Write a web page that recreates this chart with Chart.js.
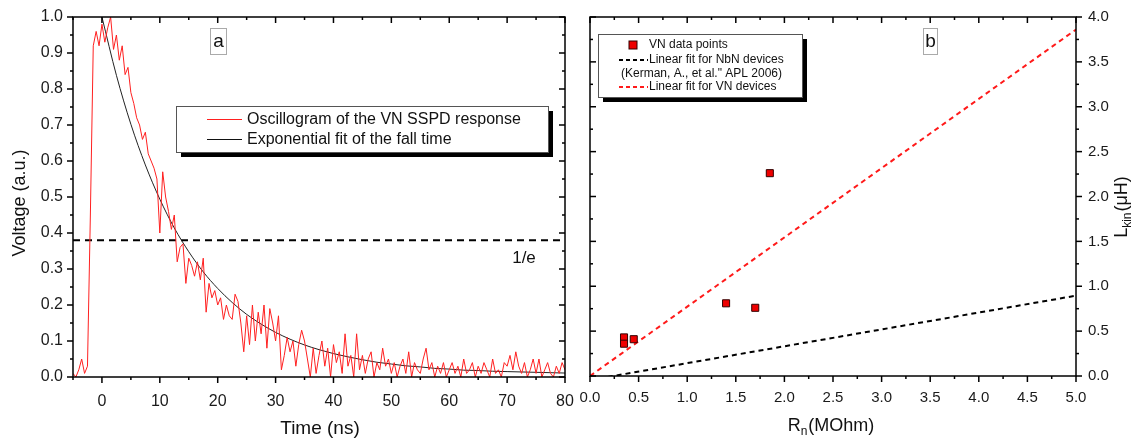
<!DOCTYPE html>
<html>
<head>
<meta charset="utf-8">
<script src="https://cdn.jsdelivr.net/npm/chart.js@4.4.0/dist/chart.umd.min.js"></script>
<style>
  body { margin: 0; background: #fff; width: 1142px; height: 439px; overflow: hidden; position: relative; }
  #chartA { position: absolute; left: 0; top: 0; }
  #chartB { position: absolute; left: 578px; top: 0; }
</style>
</head>
<body>
<canvas id="chartA" width="578" height="439"></canvas>
<canvas id="chartB" width="564" height="439"></canvas>
<script>
// panel a: oscillogram, sampled every 0.5 ns from -5 ns
const timeStart = -5;
const timeStep = 0.5;
const oscVoltage = [
  0.01, 0.00, 0.02, 0.05, 0.01, 0.03, 0.45, 0.92, 0.96, 0.92,
  0.98, 0.93, 0.97, 1.00, 0.91, 0.95, 0.88, 0.92, 0.84, 0.86,
  0.79, 0.76, 0.72, 0.70, 0.66, 0.68, 0.62, 0.60, 0.58, 0.55,
  0.40, 0.57, 0.50, 0.46, 0.41, 0.45, 0.32, 0.36, 0.37, 0.26,
  0.33, 0.31, 0.28, 0.32, 0.27, 0.33, 0.18, 0.26, 0.22, 0.24,
  0.20, 0.22, 0.16, 0.20, 0.17, 0.16, 0.23, 0.21, 0.15, 0.07,
  0.17, 0.09, 0.20, 0.10, 0.18, 0.12, 0.20, 0.08, 0.19, 0.15,
  0.10, 0.17, 0.02, 0.06, 0.11, 0.07, 0.10, 0.03, 0.09, 0.13,
  0.10, 0.05, 0.00, 0.08, 0.01, 0.06, 0.10, 0.03, 0.08, 0.00,
  0.09, 0.04, 0.07, 0.01, 0.12, 0.03, 0.06, 0.00, 0.12, 0.02,
  0.06, 0.01, 0.05, 0.07, 0.00, 0.04, 0.02, 0.08, 0.03, 0.05,
  0.01, 0.04, 0.00, 0.03, 0.05, 0.01, 0.07, 0.00, 0.04, 0.02,
  0.01, 0.05, 0.08, 0.02, 0.04, 0.00, 0.03, 0.01, 0.04, 0.00,
  0.02, 0.04, 0.01, 0.03, 0.00, 0.05, 0.01, 0.02, 0.04, 0.00,
  0.03, 0.01, 0.04, 0.02, 0.00, 0.05, 0.01, 0.02, 0.00, 0.04,
  0.03, 0.06, 0.02, 0.07, 0.03, 0.01, 0.04, 0.00, 0.02, 0.05,
  0.01, 0.05, 0.00, 0.02, 0.04, 0.01, 0.00, 0.03, 0.01, 0.04,
  0.02
];
const fitTime = [0, 2.5, 5, 7.5, 10, 12.5, 15, 17.5, 20, 22.5, 25, 27.5, 30, 32.5, 35, 37.5, 40,
  42.5, 45, 47.5, 50, 52.5, 55, 57.5, 60, 62.5, 65, 67.5, 70, 72.5, 75, 77.5, 80];
const fitVoltage = [1.0, 0.838, 0.702, 0.589, 0.494, 0.414, 0.348, 0.292, 0.246, 0.207, 0.174, 0.147,
  0.124, 0.105, 0.089, 0.076, 0.065, 0.056, 0.048, 0.041, 0.036, 0.031, 0.028, 0.024, 0.022,
  0.019, 0.018, 0.016, 0.015, 0.014, 0.013, 0.012, 0.011];
const oneOverE = 0.38;
const timeTicks = [0, 10, 20, 30, 40, 50, 60, 70, 80];

// panel b: kinetic inductance vs normal resistance
const resistance = [0.35, 0.35, 0.45, 1.4, 1.7, 1.85];
const inductance = [0.43, 0.36, 0.41, 0.81, 0.76, 2.26];
const nbnFitR = [0, 5];
const nbnFitL = [-0.045, 0.895];
const vnFitR = [0, 5];
const vnFitL = [0, 3.86];

const FONT = "'Liberation Sans', Arial, sans-serif";
const B_LEFT = 578;

// fixed axis sizes so both plot boxes sit where the figure has them
function fixSize(size) {
  return (scale) => {
    if (scale.isHorizontal()) scale.height = size;
    else scale.width = size;
    scale.paddingLeft = 0;
    scale.paddingRight = 0;
    scale.paddingTop = 0;
    scale.paddingBottom = 0;
  };
}

// box + ticks: dir 'out' or 'in' per side
function framePlugin(sides) {
  return {
    id: "frame",
    afterDraw(chart) {
      const ctx = chart.ctx;
      const ca = chart.chartArea;
      ctx.save();
      ctx.strokeStyle = "#000";
      ctx.lineWidth = 1.5;
      ctx.strokeRect(ca.left, ca.top, ca.right - ca.left, ca.bottom - ca.top);
      sides.forEach((s) => {
        const scale = chart.scales[s.axis];
        const major = scale.ticks.map((t) => t.value);
        const half = (major[1] - major[0]) / 2;
        const minor = [];
        major.forEach((v) => {
          if (v - half >= scale.min - 1e-9) minor.push(v - half);
        });
        if (major[major.length - 1] + half <= scale.max + 1e-9) minor.push(major[major.length - 1] + half);
        const draw = (v, len) => {
          const p = scale.getPixelForValue(v);
          const sgn = s.dir === "out" ? 1 : -1;
          ctx.beginPath();
          if (s.pos === "bottom") { ctx.moveTo(p, ca.bottom); ctx.lineTo(p, ca.bottom + sgn * len); }
          if (s.pos === "top") { ctx.moveTo(p, ca.top); ctx.lineTo(p, ca.top - sgn * len); }
          if (s.pos === "left") { ctx.moveTo(ca.left, p); ctx.lineTo(ca.left - sgn * len, p); }
          if (s.pos === "right") { ctx.moveTo(ca.right, p); ctx.lineTo(ca.right + sgn * len, p); }
          ctx.stroke();
        };
        major.forEach((v) => draw(v, 6));
        minor.forEach((v) => draw(v, 3));
      });
      ctx.restore();
    },
  };
}

function shadowBox(ctx, x, y, w, h, sh) {
  ctx.fillStyle = "#000";
  ctx.fillRect(x + sh, y + sh, w, h);
  ctx.fillStyle = "#fff";
  ctx.fillRect(x, y, w, h);
  ctx.strokeStyle = "#555";
  ctx.lineWidth = 1;
  ctx.strokeRect(x + 0.5, y + 0.5, w, h);
}

function letterBox(ctx, x, y, w, h, txt) {
  ctx.fillStyle = "#fff";
  ctx.fillRect(x, y, w, h);
  ctx.strokeStyle = "#aaa";
  ctx.lineWidth = 1;
  ctx.strokeRect(x + 0.5, y + 0.5, w, h);
  ctx.fillStyle = "#111";
  ctx.font = "19px " + FONT;
  ctx.textAlign = "center";
  ctx.textBaseline = "middle";
  ctx.fillText(txt, x + w / 2 + 0.5, y + h / 2 + 1);
}

// text with a subscript, centred at 0,0 of the current transform
function subText(ctx, main, sub, rest, size) {
  ctx.font = size + "px " + FONT;
  const w1 = ctx.measureText(main).width;
  const w3 = ctx.measureText(rest).width;
  ctx.font = Math.round(size * 0.65) + "px " + FONT;
  const w2 = ctx.measureText(sub).width;
  let x = -(w1 + w2 + w3 + 1) / 2;
  ctx.textAlign = "left";
  ctx.textBaseline = "middle";
  ctx.fillStyle = "#111";
  ctx.font = size + "px " + FONT;
  ctx.fillText(main, x, 0);
  x += w1;
  ctx.font = Math.round(size * 0.65) + "px " + FONT;
  ctx.fillText(sub, x, size * 0.3);
  x += w2 + 1;
  ctx.font = size + "px " + FONT;
  ctx.fillText(rest, x, 0);
}

const notesA = {
  id: "notesA",
  afterDraw(chart) {
    const ctx = chart.ctx;
    ctx.save();
    // axis titles
    ctx.fillStyle = "#111";
    ctx.font = "19px " + FONT;
    ctx.textAlign = "center";
    ctx.textBaseline = "middle";
    ctx.fillText("Time (ns)", 320, 429);
    ctx.save();
    ctx.translate(20, 203);
    ctx.rotate(-Math.PI / 2);
    ctx.font = "18px " + FONT;
    ctx.fillText("Voltage (a.u.)", 0, 0);
    ctx.restore();
    ctx.font = "17px " + FONT;
    ctx.fillText("1/e", 524, 258);
    letterBox(ctx, 210, 28, 16, 26, "a");
    // legend
    shadowBox(ctx, 176, 106, 372, 46, 5);
    ctx.lineWidth = 1;
    ctx.strokeStyle = "#ff2020";
    ctx.beginPath(); ctx.moveTo(207, 119.5); ctx.lineTo(242, 119.5); ctx.stroke();
    ctx.strokeStyle = "#111";
    ctx.beginPath(); ctx.moveTo(207, 139.5); ctx.lineTo(242, 139.5); ctx.stroke();
    ctx.fillStyle = "#111";
    ctx.font = "16px " + FONT;
    ctx.textAlign = "left";
    ctx.fillText("Oscillogram of the VN SSPD response", 247, 120);
    ctx.fillText("Exponential fit of the fall time", 247, 140);
    ctx.restore();
  },
};

const notesB = {
  id: "notesB",
  afterDraw(chart) {
    const ctx = chart.ctx;
    ctx.save();
    ctx.save();
    ctx.translate(831 - B_LEFT, 426);
    subText(ctx, "R", "n", "(MOhm)", 18);
    ctx.restore();
    ctx.save();
    ctx.translate(1122 - B_LEFT, 207);
    ctx.rotate(-Math.PI / 2);
    subText(ctx, "L", "kin", "(\u03bcH)", 18);
    ctx.restore();
    letterBox(ctx, 923 - B_LEFT, 28, 14, 26, "b");
    // legend
    const lx = 598 - B_LEFT;
    shadowBox(ctx, lx, 34, 204, 63, 5);
    ctx.fillStyle = "#ee0000";
    ctx.fillRect(633 - B_LEFT - 4, 41, 8, 8);
    ctx.strokeStyle = "#300";
    ctx.strokeRect(633 - B_LEFT - 4, 41, 8, 8);
    ctx.lineWidth = 2;
    ctx.setLineDash([4, 3]);
    ctx.strokeStyle = "#000";
    ctx.beginPath(); ctx.moveTo(619 - B_LEFT, 60); ctx.lineTo(648 - B_LEFT, 60); ctx.stroke();
    ctx.strokeStyle = "#ff1a1a";
    ctx.beginPath(); ctx.moveTo(619 - B_LEFT, 87); ctx.lineTo(648 - B_LEFT, 87); ctx.stroke();
    ctx.setLineDash([]);
    ctx.fillStyle = "#111";
    ctx.font = "12px " + FONT;
    ctx.textAlign = "left";
    ctx.textBaseline = "middle";
    ctx.fillText("VN data points", 649 - B_LEFT, 45);
    ctx.fillText("Linear fit for NbN devices", 649 - B_LEFT, 60);
    ctx.fillText("(Kerman, A., et al.\" APL 2006)", 621 - B_LEFT, 74);
    ctx.fillText("Linear fit for VN devices", 649 - B_LEFT, 87);
    ctx.restore();
  },
};

const oscPoints = oscVoltage.map((v, i) => ({ x: timeStart + i * timeStep, y: v }));
const fitPoints = fitTime.map((t, i) => ({ x: t, y: fitVoltage[i] }));

const tickFont = { family: FONT, size: 16 };

new Chart(document.getElementById("chartA"), {
  type: "line",
  data: {
    datasets: [
      {
        label: "Oscillogram of the VN SSPD response",
        data: oscPoints,
        borderColor: "#ff2020",
        borderWidth: 1,
        pointRadius: 0,
        tension: 0,
      },
      {
        label: "Exponential fit of the fall time",
        data: fitPoints,
        borderColor: "#222",
        borderWidth: 1,
        pointRadius: 0,
        cubicInterpolationMode: "monotone",
      },
      {
        label: "1/e",
        data: [{ x: -5, y: oneOverE }, { x: 80, y: oneOverE }],
        borderColor: "#000",
        borderWidth: 2,
        borderDash: [7, 5],
        pointRadius: 0,
      },
    ],
  },
  options: {
    responsive: false,
    animation: false,
    layout: { padding: { top: 17, right: 13, left: 0, bottom: 0 } },
    plugins: { legend: { display: false }, tooltip: { enabled: false } },
    scales: {
      x: {
        type: "linear",
        min: -5,
        max: 80,
        afterBuildTicks: (scale) => {
          scale.ticks = timeTicks.map((v) => ({ value: v }));
        },
        afterFit: fixSize(62),
        grid: { display: false, drawTicks: false },
        border: { display: false },
        ticks: { font: tickFont, color: "#1a1a1a", padding: 15, maxRotation: 0 },
      },
      y: {
        min: 0,
        max: 1,
        afterFit: fixSize(73),
        grid: { display: false, drawTicks: false },
        border: { display: false },
        ticks: { stepSize: 0.1, font: tickFont, color: "#1a1a1a", padding: 10, callback: (v) => v.toFixed(1) },
      },
    },
  },
  plugins: [
    framePlugin([
      { axis: "x", pos: "bottom", dir: "out" },
      { axis: "x", pos: "top", dir: "in" },
      { axis: "y", pos: "left", dir: "out" },
      { axis: "y", pos: "right", dir: "in" },
    ]),
    notesA,
  ],
});

const tickFontB = { family: FONT, size: 15 };

new Chart(document.getElementById("chartB"), {
  type: "scatter",
  data: {
    datasets: [
      {
        label: "VN data points",
        data: resistance.map((r, i) => ({ x: r, y: inductance[i] })),
        backgroundColor: "#ee0000",
        borderColor: "#300",
        borderWidth: 1,
        pointStyle: "rect",
        pointRadius: 5,
      },
      {
        label: "Linear fit for NbN devices",
        type: "line",
        data: nbnFitR.map((r, i) => ({ x: r, y: nbnFitL[i] })),
        borderColor: "#000",
        borderWidth: 2,
        borderDash: [5, 4],
        pointRadius: 0,
      },
      {
        label: "Linear fit for VN devices",
        type: "line",
        data: vnFitR.map((r, i) => ({ x: r, y: vnFitL[i] })),
        borderColor: "#ff1a1a",
        borderWidth: 2,
        borderDash: [5, 4],
        pointRadius: 0,
      },
    ],
  },
  options: {
    responsive: false,
    animation: false,
    layout: { padding: { top: 17, right: 0, left: 12, bottom: 0 } },
    plugins: { legend: { display: false }, tooltip: { enabled: false } },
    scales: {
      x: {
        type: "linear",
        min: 0,
        max: 5,
        afterFit: fixSize(63),
        grid: { display: false, drawTicks: false },
        border: { display: false },
        ticks: { stepSize: 0.5, font: tickFontB, color: "#1a1a1a", padding: 13, maxRotation: 0, callback: (v) => v.toFixed(1) },
      },
      y: {
        position: "right",
        min: 0,
        max: 4,
        afterFit: fixSize(66),
        grid: { display: false, drawTicks: false },
        border: { display: false },
        ticks: { stepSize: 0.5, font: tickFontB, color: "#1a1a1a", padding: 12, callback: (v) => v.toFixed(1) },
      },
    },
  },
  plugins: [
    framePlugin([
      { axis: "x", pos: "bottom", dir: "out" },
      { axis: "x", pos: "top", dir: "in" },
      { axis: "y", pos: "left", dir: "in" },
      { axis: "y", pos: "right", dir: "out" },
    ]),
    notesB,
  ],
});
</script>
</body>
</html>
